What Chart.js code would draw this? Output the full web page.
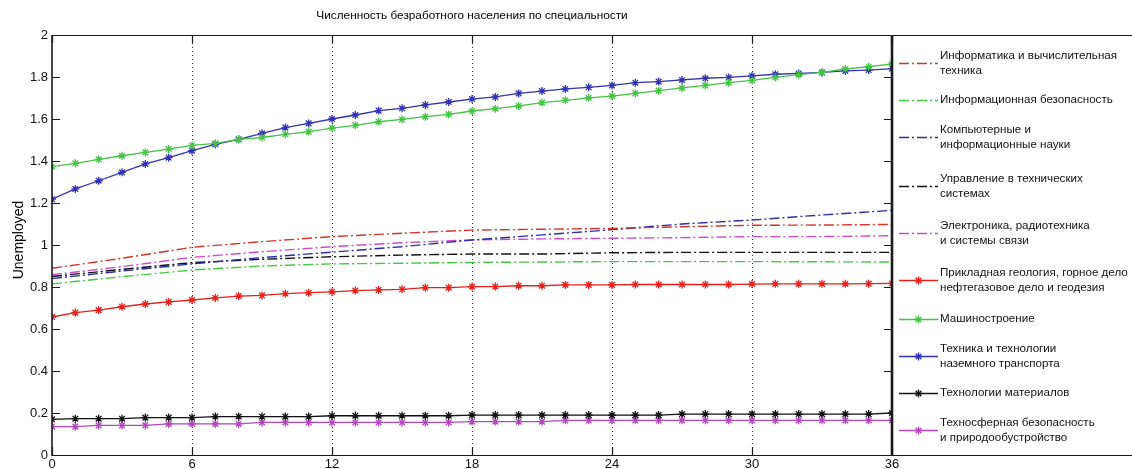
<!DOCTYPE html>
<html><head><meta charset="utf-8">
<script src="https://cdn.jsdelivr.net/npm/chart.js@4"></script>
<style>html,body{margin:0;padding:0;background:#fff;overflow:hidden}</style>
</head><body>
<canvas id="c" width="1132" height="469"></canvas>
<script>
const chartTitle = "Численность безработного населения по специальности";
const yAxisTitle = "Unemployed";
const xTicks = [0, 6, 12, 18, 24, 30, 36];
const yTicks = [0, 0.2, 0.4, 0.6, 0.8, 1, 1.2, 1.4, 1.6, 1.8, 2];

const stepsAll = [0,1,2,3,4,5,6,7,8,9,10,11,12,13,14,15,16,17,18,19,20,21,22,23,24,25,26,27,28,29,30,31,32,33,34,35,36];
const stepsEvery3 = [0,3,6,9,12,15,18,21,24,27,30,33,36];

const seriesNames = [
  "Информатика и вычислительная\nтехника",
  "Информационная безопасность",
  "Компьютерные и\nинформационные науки",
  "Управление в технических\nсистемах",
  "Электроника, радиотехника\nи системы связи",
  "Прикладная геология, горное дело\nнефтегазовое дело и геодезия",
  "Машиностроение",
  "Техника и технологии\nназемного транспорта",
  "Технологии материалов",
  "Техносферная безопасность\nи природообустройство"
];

// dash-dot series (sampled every 3 steps)
const informatika   = [0.889,0.937,0.989,1.016,1.040,1.056,1.071,1.075,1.079,1.087,1.094,1.095,1.098];
const infoSecurity  = [0.815,0.849,0.881,0.900,0.910,0.913,0.917,0.919,0.921,0.921,0.921,0.920,0.919];
const computerSci   = [0.840,0.876,0.910,0.940,0.966,0.992,1.024,1.048,1.073,1.100,1.119,1.143,1.165];
const controlSys    = [0.850,0.884,0.916,0.932,0.944,0.952,0.957,0.957,0.963,0.965,0.965,0.965,0.965];
const electronics   = [0.858,0.897,0.941,0.968,0.992,1.011,1.024,1.029,1.032,1.035,1.040,1.040,1.044];

// marker series (every step)
const geology   = [0.657,0.678,0.690,0.706,0.719,0.729,0.738,0.748,0.757,0.760,0.768,0.773,0.777,0.783,0.786,0.789,0.797,0.797,0.802,0.802,0.806,0.806,0.810,0.810,0.810,0.812,0.812,0.812,0.812,0.812,0.814,0.815,0.815,0.815,0.815,0.816,0.817];
const machinery = [1.373,1.389,1.408,1.425,1.441,1.457,1.474,1.484,1.503,1.512,1.527,1.540,1.557,1.570,1.587,1.598,1.611,1.622,1.638,1.649,1.662,1.678,1.689,1.701,1.709,1.722,1.735,1.748,1.760,1.773,1.784,1.798,1.811,1.822,1.838,1.849,1.862];
const transport = [1.218,1.267,1.306,1.346,1.386,1.416,1.449,1.479,1.503,1.532,1.559,1.579,1.600,1.619,1.640,1.651,1.667,1.681,1.695,1.705,1.722,1.733,1.743,1.751,1.760,1.773,1.778,1.786,1.794,1.798,1.805,1.813,1.817,1.822,1.829,1.833,1.840];
const materials = [0.170,0.173,0.173,0.173,0.178,0.178,0.178,0.183,0.183,0.183,0.183,0.183,0.187,0.187,0.187,0.187,0.187,0.187,0.190,0.190,0.190,0.190,0.190,0.190,0.190,0.190,0.190,0.195,0.195,0.195,0.195,0.195,0.195,0.195,0.195,0.195,0.200];
const technosphere = [0.135,0.135,0.141,0.141,0.141,0.148,0.148,0.148,0.148,0.155,0.155,0.155,0.155,0.155,0.155,0.155,0.155,0.155,0.159,0.159,0.159,0.159,0.165,0.165,0.165,0.165,0.165,0.165,0.165,0.165,0.165,0.165,0.165,0.165,0.165,0.165,0.165];

const FONT = "'Liberation Sans', Arial, sans-serif";
const DASHDOT = [10,3,2,3];

function pts(xs, ys){ return ys.map((y,i)=>({x:xs[i], y:y})); }
function dashSeries(i, ys, color){
  return {label: seriesNames[i], data: pts(stepsEvery3, ys), borderColor: color, backgroundColor: color,
    borderWidth: 1.4, borderDash: DASHDOT, pointRadius: 0, pointHoverRadius: 0, tension: 0, fill: false};
}
function markSeries(i, ys, color){
  return {label: seriesNames[i], data: pts(stepsAll, ys), borderColor: color, backgroundColor: color,
    borderWidth: 1.3, pointStyle: 'star', pointRadius: 4, pointBorderWidth: 1.3, pointHoverRadius: 4, tension: 0, fill: false};
}

const datasets = [
  dashSeries(0, informatika, '#d0342c'),
  dashSeries(1, infoSecurity, '#44c844'),
  dashSeries(2, computerSci, '#2c2ca8'),
  dashSeries(3, controlSys, '#111111'),
  dashSeries(4, electronics, '#c84cc8'),
  markSeries(5, geology, '#e8201c'),
  markSeries(6, machinery, '#44c444'),
  markSeries(7, transport, '#3232b4'),
  markSeries(8, materials, '#111111'),
  markSeries(9, technosphere, '#b446c0')
];

const legendY = [63, 100, 137, 186, 233, 280, 319, 356, 393, 430];

function drawStar(ctx, x, y, r){
  ctx.beginPath();
  ctx.moveTo(x - r, y); ctx.lineTo(x + r, y);
  ctx.moveTo(x, y - r); ctx.lineTo(x, y + r);
  const d = r * Math.SQRT1_2;
  ctx.moveTo(x - d, y - d); ctx.lineTo(x + d, y + d);
  ctx.moveTo(x - d, y + d); ctx.lineTo(x + d, y - d);
  ctx.stroke();
}

const decor = {
  id: 'decor',
  afterDraw(chart){
    const ctx = chart.ctx, a = chart.chartArea;
    const xs = chart.scales.x, ys = chart.scales.y;
    const W = chart.width;
    ctx.save();
    // frame
    ctx.strokeStyle = '#1a1a1a';
    ctx.lineWidth = 1;
    ctx.beginPath();
    ctx.moveTo(a.left, a.top + 0.5); ctx.lineTo(W, a.top + 0.5);
    ctx.moveTo(a.left, a.bottom + 0.5); ctx.lineTo(W, a.bottom + 0.5);
    ctx.stroke();
    ctx.lineWidth = 1.6;
    ctx.beginPath(); ctx.moveTo(a.left, a.top); ctx.lineTo(a.left, a.bottom + 1); ctx.stroke();
    ctx.lineWidth = 2.6;
    ctx.beginPath(); ctx.moveTo(a.right, a.top); ctx.lineTo(a.right, a.bottom + 1); ctx.stroke();
    // inward ticks
    ctx.lineWidth = 1.2;
    ctx.beginPath();
    yTicks.forEach(v => {
      const py = Math.round(ys.getPixelForValue(v)) + 0.5;
      ctx.moveTo(a.left, py); ctx.lineTo(a.left + 8, py);
      ctx.moveTo(a.right, py); ctx.lineTo(a.right - 8, py);
    });
    xTicks.forEach(v => {
      const px = Math.round(xs.getPixelForValue(v)) + 0.5;
      ctx.moveTo(px, a.top); ctx.lineTo(px, a.top + 8);
      ctx.moveTo(px, a.bottom); ctx.lineTo(px, a.bottom - 8);
    });
    ctx.stroke();
    // title
    ctx.fillStyle = '#000';
    ctx.font = '11.8px ' + FONT;
    ctx.textAlign = 'center'; ctx.textBaseline = 'middle';
    ctx.fillText(chartTitle, (a.left + a.right) / 2, 16);
    // y axis title
    ctx.save();
    ctx.translate(19, 240);
    ctx.rotate(-Math.PI / 2);
    ctx.font = '14px ' + FONT;
    ctx.fillText(yAxisTitle, 0, 0);
    ctx.restore();
    // legend
    const x0 = a.right + 7, x1 = a.right + 46, tx = a.right + 48;
    datasets.forEach((ds, i) => {
      const y = legendY[i];
      ctx.strokeStyle = ds.borderColor;
      ctx.lineWidth = ds.borderWidth;
      ctx.setLineDash(ds.borderDash || []);
      ctx.beginPath(); ctx.moveTo(x0, y + 0.5); ctx.lineTo(x1, y + 0.5); ctx.stroke();
      ctx.setLineDash([]);
      if (ds.pointStyle === 'star') { ctx.lineWidth = 1.3; drawStar(ctx, (x0 + x1) / 2, y + 0.5, 4); }
      const lines = ds.label.split('\n');
      ctx.fillStyle = '#111';
      ctx.font = '11.6px ' + FONT;
      ctx.textAlign = 'left'; ctx.textBaseline = 'middle';
      const lh = 15;
      lines.forEach((t, k) => {
        ctx.fillText(t, tx, y - (lines.length - 1) * lh / 2 + k * lh);
      });
    });
    ctx.restore();
  }
};

new Chart(document.getElementById('c'), {
  type: 'line',
  data: { datasets },
  options: {
    responsive: false,
    animation: false,
    layout: { padding: { left: 0, right: 240, top: 35, bottom: 0 } },
    plugins: { legend: { display: false }, title: { display: false }, tooltip: { enabled: false } },
    scales: {
      x: {
        type: 'linear', min: 0, max: 36,
        afterFit: s => { s.height = 14; },
        afterBuildTicks: s => { s.ticks = xTicks.map(v => ({ value: v })); },
        ticks: { padding: 2, color: '#111', font: { family: FONT, size: 13 }, maxRotation: 0, autoSkip: false,
          callback: v => String(v) },
        grid: { drawTicks: false, lineWidth: 1, borderDash: [1, 3],
          color: c => (c.tick && c.tick.value > 0 && c.tick.value < 36) ? '#333' : 'rgba(0,0,0,0)' },
        border: { display: false, dash: [1, 3] }
      },
      y: {
        type: 'linear', min: 0, max: 2,
        afterFit: s => { s.width = 52; },
        afterBuildTicks: s => { s.ticks = yTicks.map(v => ({ value: v })); },
        ticks: { padding: 4, color: '#111', font: { family: FONT, size: 13 }, autoSkip: false,
          callback: v => String(v) },
        grid: { display: false, drawTicks: false },
        border: { display: false }
      }
    }
  },
  plugins: [decor]
});
</script>
</body></html>
